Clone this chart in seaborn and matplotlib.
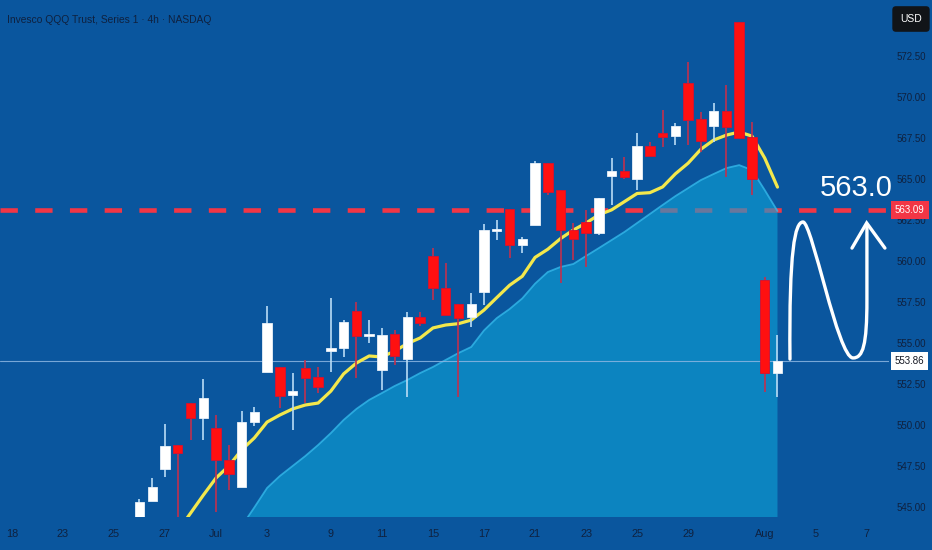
import matplotlib
matplotlib.use("Agg")
import matplotlib.pyplot as plt
import numpy as np
import pandas as pd
import seaborn as sns
from matplotlib import transforms
from matplotlib.path import Path
from matplotlib.patches import PathPatch

sns.set_theme(style="dark")
plt.rcParams["font.family"] = ["Liberation Sans", "DejaVu Sans"]
plt.rcParams["lines.scale_dashes"] = False

BG = "#0a569e"
TXT = "#0f213f"
RED = "#ff1010"

# 4h candles, QQQ, late June -> Aug 1
opens = [544.37, 545.35, 547.30, 548.76, 551.32, 550.41, 549.80, 547.85, 546.20, 550.16,
         553.21, 553.52, 551.81, 553.46, 552.91, 554.49, 554.68, 556.93, 555.40, 553.34,
         555.53, 554.01, 556.57, 560.29, 558.34, 557.36, 556.57, 558.09, 561.80, 563.15,
         560.96, 562.18, 565.96, 564.31, 561.87, 562.36, 561.69, 565.16, 565.47, 564.98,
         566.99, 567.79, 567.60, 570.84, 568.64, 568.21, 569.13, 574.55, 567.54, 558.85,
         553.17]
highs = [545.47, 546.75, 550.04, 548.76, 551.32, 552.79, 550.59, 548.76, 550.84, 551.08,
         557.24, 553.52, 553.15, 553.95, 553.52, 557.73, 556.38, 557.48, 556.38, 555.90,
         555.77, 556.87, 556.87, 560.77, 559.86, 557.36, 558.03, 562.22, 562.48, 563.15,
         561.45, 566.08, 565.96, 564.31, 562.30, 563.09, 563.82, 566.26, 566.32, 567.79,
         567.24, 569.19, 568.40, 572.12, 569.07, 569.62, 570.71, 574.55, 568.46, 559.01,
         555.47]
lows = [544.30, 545.35, 546.81, 544.00, 549.07, 549.07, 544.68, 546.02, 546.20, 549.92,
        553.21, 551.02, 549.68, 551.32, 551.93, 553.21, 554.13, 552.85, 554.98, 552.12,
        553.64, 551.69, 556.00, 557.60, 556.69, 551.69, 555.96, 557.30, 561.26, 560.16,
        560.47, 562.18, 564.00, 558.64, 560.04, 559.62, 561.57, 563.40, 565.00, 564.31,
        566.38, 566.93, 567.05, 567.05, 566.63, 567.24, 565.10, 567.48, 564.01, 551.99,
        551.69]
closes = [545.29, 546.20, 548.70, 548.27, 550.41, 551.63, 547.85, 546.99, 550.16, 550.77,
          556.20, 551.75, 552.05, 552.85, 552.30, 554.68, 556.26, 555.41, 555.47, 555.47,
          554.19, 556.57, 556.20, 558.34, 556.69, 556.51, 557.36, 561.87, 561.90, 560.96,
          561.32, 565.96, 564.19, 561.87, 561.32, 561.69, 563.82, 565.47, 565.10, 566.99,
          566.38, 567.54, 568.21, 568.58, 567.30, 569.13, 568.15, 567.48, 564.98, 553.17,
          553.90]

# yellow moving average, from candle 3 on
ma_fast_start = 3
ma_fast = [543.5, 544.6, 545.7, 546.75, 547.48, 548.46, 549.19, 550.16, 550.59, 550.96,
           551.2, 551.32, 552.05, 553.1, 553.76, 554.19, 554.13, 554.49, 554.95, 555.29,
           555.9, 556.08, 556.16, 556.38, 556.99, 557.75, 558.5, 559.05, 560.2, 560.7,
           561.35, 561.87, 562.3, 562.8, 563.1, 563.6, 564.1, 564.15, 564.5, 565.3,
           565.95, 566.8, 567.36, 567.66, 567.85, 567.6, 566.26, 564.49]

# slower average shown as filled area, from candle 8 on
ma_slow_start = 8
ma_slow = [543.8, 544.95, 546.14, 546.87, 547.48, 548.09, 548.76, 549.49, 550.29, 550.96,
           551.51, 551.93, 552.36, 552.73, 553.15, 553.52, 553.95, 554.37, 554.74, 555.75,
           556.5, 557.05, 557.7, 558.6, 559.31, 559.62, 559.8, 560.29, 560.77, 561.26,
           561.75, 562.3, 562.85, 563.4, 563.94, 564.43, 564.92, 565.29, 565.65, 565.83,
           565.53, 564.31, 563.03]

tick_pos = [-10, -6, -2, 2, 6, 10, 15, 19, 23, 27, 31, 35, 39, 43, 49, 53, 57]
tick_labels = ["18", "23", "25", "27", "Jul", "3", "9", "11", "15", "17", "21", "23",
               "25", "29", "Aug", "5", "7"]

level = 563.09
last_price = 553.86

df = pd.DataFrame({"open": opens, "high": highs, "low": lows, "close": closes})
df["x"] = np.arange(len(df))
up = df["close"] >= df["open"]

fig = plt.figure(figsize=(9.32, 5.5), dpi=100, facecolor=BG)
ax = fig.add_axes([0, 33 / 550, 889 / 932, 517 / 550])
ax.set_facecolor(BG)
for s in ax.spines.values():
    s.set_visible(False)
ax.grid(False)

# resistance level (drawn under the area)
ax.axhline(level, color="#f23645", lw=3.3, ls=(0, (12.5, 12.5)), zorder=1.5)

# area average
xs = np.arange(ma_slow_start, ma_slow_start + len(ma_slow))
ax.fill_between(xs, ma_slow, 530, color="#0fa4d8", alpha=0.6, lw=0, zorder=2)
ax.plot(xs, ma_slow, color="#34b8ea", lw=1.3, alpha=0.8, zorder=2.1)

# last price line
ax.axhline(last_price, color="#8cb6e2", lw=0.8, alpha=0.85, zorder=2.5)

# yellow average
xf = np.arange(ma_fast_start, ma_fast_start + len(ma_fast))
sns.lineplot(x=xf, y=ma_fast, ax=ax, color="#f3e84c", lw=2.3, zorder=3)

# candles
wick_col = np.where(up, "#b9dcf6", "#c0304e")
ax.vlines(df["x"], df["low"], df["high"], colors=wick_col, lw=1.2, zorder=4)
body_bot = np.minimum(df["open"], df["close"])
body_h = np.maximum((df["close"] - df["open"]).abs(), 0.15)
ax.bar(df["x"], body_h, bottom=body_bot, width=0.74,
       color=np.where(up, "#ffffff", RED), edgecolor=np.where(up, "#e8f0f8", "#d81030"),
       linewidth=0.6, zorder=5)

# hand drawn projection: dip then push up
verts = [(50.98, 554.0), (50.90, 560.65), (51.37, 562.36), (52.0, 562.36),
         (52.70, 562.36), (54.74, 554.07), (55.92, 554.07),
         (56.70, 554.07), (57.01, 554.86), (57.01, 557.6),
         (57.01, 562.2)]
codes = [Path.MOVETO, Path.CURVE4, Path.CURVE4, Path.CURVE4,
         Path.CURVE4, Path.CURVE4, Path.CURVE4,
         Path.CURVE4, Path.CURVE4, Path.CURVE4,
         Path.LINETO]
ax.add_patch(PathPatch(Path(verts, codes), fc="none", ec="white", lw=2.4,
                       capstyle="round", zorder=7))
ax.plot([55.84, 56.99, 58.42], [560.77, 562.3, 560.77], color="white", lw=2.4,
        solid_capstyle="round", solid_joinstyle="miter", zorder=7)
ax.text(56.15, 564.45, "563.0", color="white", fontsize=21, ha="center", va="center",
        zorder=8)

ax.set_xlim(-10.93, 58.74)
ax.set_ylim(544.37, 575.9)
ax.set_xticks(tick_pos)
ax.set_xticklabels(tick_labels)
ax.set_yticks(np.arange(545, 573, 2.5))
ax.set_yticklabels([f"{v:.2f}" for v in np.arange(545, 573, 2.5)])
ax.yaxis.tick_right()
ax.tick_params(axis="x", length=0, pad=8.3, labelsize=7.8, labelcolor=TXT)
ax.tick_params(axis="y", length=0, pad=5.6, labelsize=7, labelcolor=TXT)
ax.set_xlabel("")
ax.set_ylabel("")

# price tags on the scale
blend = transforms.blended_transform_factory(ax.transAxes, ax.transData)
ax.text(1.0065, level, f"{level:.2f}", transform=blend, ha="left", va="center",
        fontsize=7, color="white", zorder=10, clip_on=False,
        bbox=dict(boxstyle="square,pad=0.42", fc="#f23645", ec="none"))
ax.text(1.0065, last_price, f"{last_price:.2f}", transform=blend, ha="left", va="center",
        fontsize=7, color="#131722", zorder=10, clip_on=False,
        bbox=dict(boxstyle="square,pad=0.42", fc="white", ec="none"))

fig.text(7 / 932, 1 - 20 / 550, "Invesco QQQ Trust, Series 1 · 4h · NASDAQ",
         fontsize=7.4, color=TXT, ha="left", va="center")
fig.text(911 / 932, 1 - 19 / 550, "USD", fontsize=7.5, color="white", ha="center",
         va="center", bbox=dict(boxstyle="round,pad=0.75,rounding_size=0.35",
                                fc="#111418", ec="none"))

fig.savefig("out.png", dpi=100, facecolor=BG)
